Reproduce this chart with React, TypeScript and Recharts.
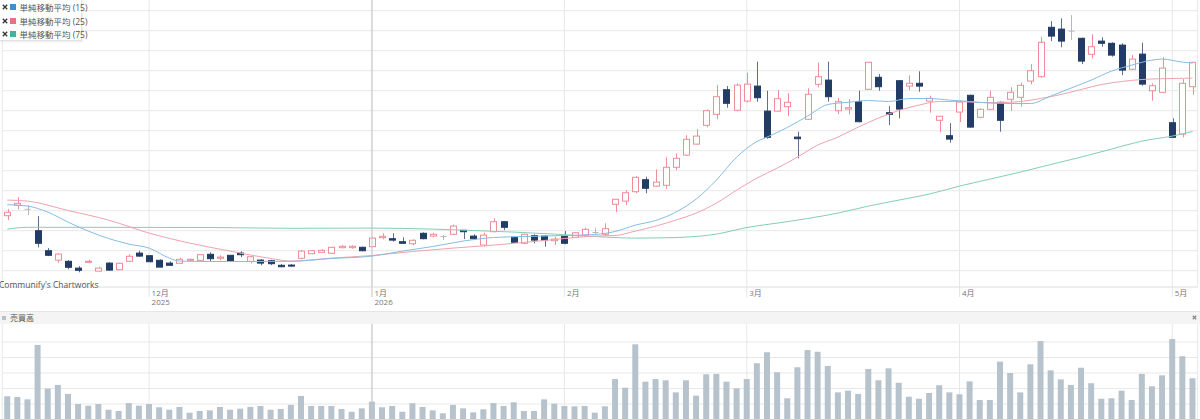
import { ComposedChart, BarChart, Bar, Line, XAxis, YAxis, CartesianGrid, ReferenceLine } from 'recharts'

// trading days shown on the chart, by month
const monthDays: [string, number[]][] = [
  ['2025-11', [10, 11, 12, 13, 14, 17, 18, 19, 20, 21, 25, 26, 27, 28]],
  ['2025-12', [1, 2, 3, 4, 5, 8, 9, 10, 11, 12, 15, 16, 17, 18, 19, 22, 23, 24, 25, 26, 29, 30]],
  ['2026-01', [5, 6, 7, 8, 9, 13, 14, 15, 16, 19, 20, 21, 22, 23, 26, 27, 28, 29, 30]],
  ['2026-02', [2, 3, 4, 5, 6, 9, 10, 12, 13, 16, 17, 18, 19, 20, 24, 25, 26, 27]],
  ['2026-03', [2, 3, 4, 5, 6, 9, 10, 11, 12, 13, 16, 17, 18, 19, 23, 24, 25, 26, 27, 30, 31]],
  ['2026-04', [1, 2, 3, 6, 7, 8, 9, 10, 13, 14, 15, 16, 17, 20, 21, 22, 23, 24, 27, 28, 30]],
  ['2026-05', [1, 7, 8]],
]

const monthTicks = ['2025-12-01', '2026-01-05', '2026-02-02', '2026-03-02', '2026-04-01', '2026-05-01']
const monthLabels = ['12月', '1月', '2月', '3月', '4月', '5月']
const yearLabels = ['2025', '2026', '', '', '', '']
const yearBoundary = '2026-01-05'

const priceDomain = [918.5, 2353.5]
const priceTicks = [1000, 1100, 1200, 1300, 1400, 1500, 1600, 1700, 1800, 1900, 2000, 2100, 2200, 2300]
const volumeDomain = [0, 716]
const volumeTicks = [100, 200, 300, 400, 500, 600]

// open, high, low, close
const ohlc: number[][] = [
  [1275, 1308, 1253, 1292], [1327, 1367, 1307, 1337], [1307, 1328, 1278, 1307], [1200, 1273, 1117, 1137],
  [1100, 1113, 1073, 1077], [1053, 1087, 1040, 1083], [1047, 1053, 1007, 1017], [1013, 1023, 992, 1002],
  [1042, 1055, 1037, 1047], [998, 1020, 995, 1013], [1038, 1042, 1000, 1003], [1005, 1040, 1003, 1037],
  [1047, 1082, 1043, 1072], [1088, 1100, 1070, 1073], [1075, 1078, 1042, 1045], [1052, 1057, 1017, 1018],
  [1038, 1047, 1025, 1027], [1037, 1065, 1033, 1057], [1052, 1060, 1048, 1057], [1052, 1082, 1050, 1080],
  [1082, 1092, 1048, 1060], [1062, 1077, 1052, 1068], [1077, 1078, 1047, 1048], [1088, 1097, 1068, 1080],
  [1047, 1073, 1037, 1070], [1053, 1057, 1027, 1038], [1050, 1055, 1028, 1035], [1027, 1033, 1017, 1020],
  [1028, 1033, 1020, 1023], [1062, 1103, 1057, 1098], [1085, 1103, 1083, 1100], [1092, 1107, 1088, 1102],
  [1087, 1120, 1083, 1117], [1115, 1128, 1112, 1122], [1115, 1127, 1110, 1122], [1117, 1120, 1097, 1100],
  [1120, 1168, 1117, 1163], [1165, 1187, 1157, 1172], [1160, 1187, 1145, 1153], [1145, 1167, 1135, 1137],
  [1135, 1157, 1128, 1152], [1187, 1192, 1157, 1160], [1173, 1190, 1167, 1182], [1171, 1178, 1153, 1171],
  [1182, 1230, 1178, 1223], [1202, 1203, 1158, 1195], [1173, 1182, 1153, 1160], [1128, 1190, 1120, 1178],
  [1195, 1262, 1192, 1245], [1245, 1248, 1203, 1217], [1167, 1170, 1140, 1142], [1137, 1185, 1133, 1182],
  [1175, 1182, 1137, 1153], [1173, 1178, 1120, 1153], [1150, 1170, 1128, 1158], [1173, 1198, 1132, 1137],
  [1167, 1193, 1165, 1190], [1178, 1215, 1177, 1207], [1191, 1215, 1183, 1191], [1182, 1237, 1173, 1210],
  [1332, 1357, 1293, 1357], [1348, 1403, 1328, 1390], [1395, 1473, 1387, 1467], [1455, 1470, 1387, 1412],
  [1423, 1507, 1420, 1443], [1427, 1567, 1410, 1517], [1517, 1587, 1503, 1562], [1578, 1677, 1573, 1657],
  [1633, 1708, 1630, 1673], [1727, 1807, 1717, 1800], [1782, 1928, 1757, 1870], [1905, 1923, 1815, 1837],
  [1802, 1937, 1797, 1928], [1848, 1990, 1842, 1933], [1923, 2045, 1845, 1865], [1798, 1900, 1660, 1667],
  [1798, 1903, 1795, 1860], [1820, 1887, 1773, 1842], [1668, 1695, 1562, 1660], [1757, 1912, 1753, 1882],
  [1932, 2040, 1917, 1970], [1953, 2045, 1845, 1870], [1800, 1865, 1783, 1845], [1808, 1857, 1782, 1815],
  [1845, 1900, 1742, 1745], [1907, 2045, 1905, 2042], [1967, 1983, 1900, 1920], [1790, 1823, 1728, 1782],
  [1950, 1953, 1762, 1808], [1923, 1977, 1903, 1937], [1937, 1997, 1895, 1923], [1848, 1875, 1790, 1862],
  [1752, 1772, 1692, 1772], [1675, 1738, 1640, 1658], [1793, 1853, 1743, 1843], [1877, 1880, 1715, 1718],
  [1767, 1812, 1762, 1807], [1807, 1900, 1803, 1867], [1842, 1845, 1695, 1752], [1857, 1917, 1800, 1892],
  [1867, 1940, 1820, 1927], [1948, 2033, 1932, 2000], [1970, 2170, 1965, 2142], [2217, 2248, 2148, 2173],
  [2208, 2262, 2117, 2148], [2198, 2278, 2153, 2198], [2162, 2165, 2033, 2048], [2082, 2182, 2062, 2120],
  [2148, 2167, 2120, 2137], [2137, 2142, 2070, 2078], [2128, 2137, 1978, 2003], [2007, 2078, 2003, 2058],
  [2083, 2140, 1925, 1933], [1900, 1937, 1850, 1925], [1892, 2067, 1887, 2013], [1740, 1762, 1665, 1667],
  [1683, 1958, 1667, 1937], [1920, 2043, 1880, 2042],
]

const volumes = [
  250, 245, 230, 581, 299, 323, 265, 200, 189, 200, 163, 155, 206, 189, 200, 179, 163, 181, 144, 155,
  159, 181, 163, 170, 181, 187, 163, 168, 194, 252, 187, 187, 187, 168, 150, 172, 215, 179, 187, 150,
  205, 181, 159, 140, 194, 172, 146, 166, 206, 187, 211, 155, 155, 230, 202, 187, 185, 187, 144, 185,
  361, 305, 585, 344, 361, 353, 275, 353, 254, 392, 394, 344, 301, 361, 463, 534, 405, 237, 437, 548,
  537, 445, 275, 286, 265, 426, 353, 430, 337, 247, 234, 271, 321, 275, 263, 346, 226, 226, 473, 400,
  275, 456, 606, 417, 359, 323, 434, 334, 234, 237, 286, 226, 394, 314, 385, 619, 508, 366,
]

// moving averages: [candle index, value]
const ma15Points: [number, number][] = [
  [0, 1330], [2, 1323], [4, 1293], [6, 1243], [8, 1198], [10, 1161], [12, 1133], [14, 1113], [16, 1063],
  [17, 1048], [20, 1046], [24, 1046], [28, 1047], [32, 1061], [36, 1073], [39, 1098], [42, 1121], [45, 1148],
  [48, 1166], [51, 1171], [55, 1176], [58, 1181], [60, 1196], [62, 1228], [64, 1251], [66, 1293], [68, 1358],
  [70, 1453], [72, 1568], [74, 1646], [75, 1668], [77, 1716], [79, 1773], [81, 1831], [83, 1842], [85, 1851],
  [87, 1846], [89, 1861], [91, 1861], [93, 1853], [95, 1846], [97, 1838], [99, 1836], [101, 1836], [103, 1873],
  [105, 1913], [107, 1953], [109, 1998], [111, 2028], [113, 2053], [114, 2058], [116, 2043], [117, 2038],
]
const ma25Points: [number, number][] = [
  [0, 1353], [2, 1348], [6, 1301], [10, 1253], [14, 1188], [18, 1138], [22, 1098], [26, 1061], [28, 1048],
  [32, 1063], [36, 1076], [40, 1096], [44, 1113], [48, 1128], [52, 1146], [55, 1161], [58, 1173], [60, 1176],
  [62, 1198], [64, 1223], [66, 1253], [68, 1288], [70, 1338], [72, 1403], [74, 1463], [76, 1513], [78, 1568],
  [80, 1628], [82, 1668], [84, 1718], [86, 1763], [88, 1801], [90, 1828], [92, 1846], [94, 1846], [96, 1841],
  [98, 1841], [100, 1846], [102, 1861], [104, 1881], [106, 1906], [108, 1931], [110, 1946], [112, 1956],
  [114, 1960], [116, 1962], [117, 1963],
]
const ma75Points: [number, number][] = [
  [0, 1208], [2, 1217], [10, 1217], [20, 1216], [28, 1212], [36, 1213], [42, 1208], [46, 1201], [50, 1193],
  [54, 1183], [58, 1171], [62, 1163], [66, 1166], [70, 1183], [73, 1216], [76, 1238], [79, 1261], [82, 1288],
  [85, 1323], [88, 1353], [91, 1383], [94, 1423], [97, 1458], [100, 1493], [103, 1531], [106, 1568], [109, 1608],
  [112, 1648], [115, 1673], [117, 1696],
]

const dates = monthDays.flatMap(([ym, days]) => days.map((d) => `${ym}-${String(d).padStart(2, '0')}`))
const m15 = new Map(ma15Points)
const m25 = new Map(ma25Points)
const m75 = new Map(ma75Points)

const rows = dates.map((date, i) => {
  const [open, high, low, close] = ohlc[i]
  return {
    date, open, high, low, close,
    range: [low, high],
    volume: volumes[i],
    ma15: m15.get(i) ?? null,
    ma25: m25.get(i) ?? null,
    ma75: m75.get(i) ?? null,
  }
})

const UP = '#ef8e98'
const DOWN = '#233c66'
const DOWN_WICK = '#5d6d8c'
const DOJI = '#b8b8b8'
const FONT = "'Open Sans', 'Noto Sans CJK JP', sans-serif"

// grid rows placed with the y axis scale
const rowLines = (values: number[], domain: number[]) => (props: any) => {
  const scale = props?.yAxis?.scale
  if (typeof scale === 'function') return values.map((v) => scale(v))
  const { top, height } = props.offset
  return values.map((v) => top + ((domain[1] - v) / (domain[1] - domain[0])) * height)
}

const Candle = (props: any) => {
  const { x, y, width, height, payload } = props
  const { open, close, high, low } = payload
  const top = Math.min(y, y + height)
  const h = Math.abs(height)
  const span = high - low || 1
  const toY = (v: number) => top + ((high - v) / span) * h
  const cx = Math.round(x + width / 2) + 0.5
  const color = close > open ? UP : close < open ? DOWN : DOJI
  const wick = close < open ? DOWN_WICK : color
  const bTop = toY(Math.max(open, close))
  const bBot = toY(Math.min(open, close))
  const bx = Math.round(x) + 0.5
  const bw = Math.round(width) - 1
  return (
    <g>
      <line x1={cx} x2={cx} y1={top} y2={top + h} stroke={wick} strokeWidth={1} />
      {close === open ? (
        <line x1={bx} x2={bx + bw} y1={bTop} y2={bTop} stroke={color} strokeWidth={1} />
      ) : (
        <rect x={bx} y={bTop} width={bw} height={Math.max(bBot - bTop, 1)}
          fill={close > open ? '#fff' : DOWN} stroke={color} strokeWidth={1} />
      )}
    </g>
  )
}

const MonthTick = (props: any) => {
  const { x, y, payload } = props
  const i = monthTicks.indexOf(payload.value)
  const strong = payload.value === yearBoundary
  return (
    <g>
      <line x1={x} x2={x} y1={y} y2={y + 10} stroke={strong ? '#c4c4c4' : '#e6e6e6'} />
      <text x={x + 2.5} y={y + 8.5} fontSize={8} fill="#777" fontFamily={FONT}>{monthLabels[i]}</text>
      {yearLabels[i] && (
        <text x={x + 2.5} y={y + 17.5} fontSize={8} fill="#777" fontFamily={FONT}>{yearLabels[i]}</text>
      )}
    </g>
  )
}

const CloseMark = ({ size = 6, color = '#333' }: { size?: number; color?: string }) => (
  <svg width={size} height={size} style={{ display: 'block' }}>
    <path d={`M0.8 0.8 L${size - 0.8} ${size - 0.8} M${size - 0.8} 0.8 L0.8 ${size - 0.8}`} stroke={color} strokeWidth={1.3} />
  </svg>
)

const legendItems = [
  { label: '単純移動平均 (15)', color: '#3d8fce' },
  { label: '単純移動平均 (25)', color: '#e07585' },
  { label: '単純移動平均 (75)', color: '#45b09b' },
]

const margin = { top: 0, right: 2.4, bottom: 0, left: 2.2 }

export default function App() {
  return (
    <div style={{ position: 'absolute', left: 0, top: 0, width: 1200, height: 419, overflow: 'hidden', background: '#fff', fontFamily: FONT }}>
      <div style={{ position: 'absolute', left: 0, top: 0 }}>
        <ComposedChart width={1200} height={310} data={rows} margin={margin} barCategoryGap={0}>
          <CartesianGrid stroke="#e8e8e8" horizontalCoordinatesGenerator={rowLines(priceTicks, priceDomain)} />
          <XAxis dataKey="date" ticks={monthTicks} interval={0} height={23} tickSize={0} tickMargin={0}
            tickLine={false} axisLine={{ stroke: '#dcdcdc' }} tick={<MonthTick />} />
          <YAxis domain={priceDomain} ticks={priceTicks} hide />
          <ReferenceLine x={yearBoundary} stroke="#c4c4c4" />
          <Bar dataKey="range" barSize={7} shape={<Candle />} isAnimationActive={false} />
          <Line dataKey="ma75" type="monotone" stroke="#86cdb9" strokeWidth={1} dot={false} connectNulls isAnimationActive={false} />
          <Line dataKey="ma25" type="monotone" stroke="#efa3ad" strokeWidth={1} dot={false} connectNulls isAnimationActive={false} />
          <Line dataKey="ma15" type="monotone" stroke="#85bde3" strokeWidth={1} dot={false} connectNulls isAnimationActive={false} />
        </ComposedChart>
      </div>

      <div style={{ position: 'absolute', left: 0, top: 0, width: 81, height: 40, background: '#fff', border: '1px solid #e2e2e2', borderLeft: 'none', borderTop: 'none', boxShadow: '1px 1px 2px rgba(0,0,0,0.08)' }}>
        {legendItems.map((item, i) => (
          <div key={item.label} style={{ position: 'absolute', left: 0, top: 1 + i * 13.6, height: 12, display: 'flex', alignItems: 'center', fontSize: 8.5, color: '#555', whiteSpace: 'nowrap' }}>
            <span style={{ marginLeft: 1.5, marginRight: 2.5 }}><CloseMark /></span>
            <span style={{ width: 6, height: 6, background: item.color, marginRight: 3.5 }} />
            <span>{item.label}</span>
          </div>
        ))}
      </div>

      <div style={{ position: 'absolute', left: -1, top: 279, fontSize: 8.5, color: '#555', whiteSpace: 'nowrap' }}>
        Communify's Chartworks
      </div>

      <div style={{ position: 'absolute', left: 0, top: 310.5, width: 1200, height: 13, background: '#f4f4f4', borderTop: '1px solid #e6e6e6', boxSizing: 'border-box' }}>
        <span style={{ position: 'absolute', left: 2, top: 4, width: 4, height: 4, background: '#b5c2cb' }} />
        <span style={{ position: 'absolute', left: 10, top: 0, fontSize: 8, lineHeight: '12px', color: '#555' }}>売買高</span>
        <span style={{ position: 'absolute', right: 3, top: 3 }}><CloseMark size={5} color="#888" /></span>
      </div>

      <div style={{ position: 'absolute', left: 0, top: 324 }}>
        <BarChart width={1200} height={111} data={rows} margin={margin} barCategoryGap={0}>
          <CartesianGrid stroke="#e8e8e8" horizontalCoordinatesGenerator={rowLines(volumeTicks, volumeDomain)} />
          <XAxis dataKey="date" ticks={monthTicks} interval={0} hide />
          <YAxis domain={volumeDomain} ticks={volumeTicks} hide />
          <ReferenceLine x={yearBoundary} stroke="#c4c4c4" />
          <Bar dataKey="volume" barSize={6} fill="#b7c3cc" isAnimationActive={false} />
        </BarChart>
      </div>
    </div>
  )
}
